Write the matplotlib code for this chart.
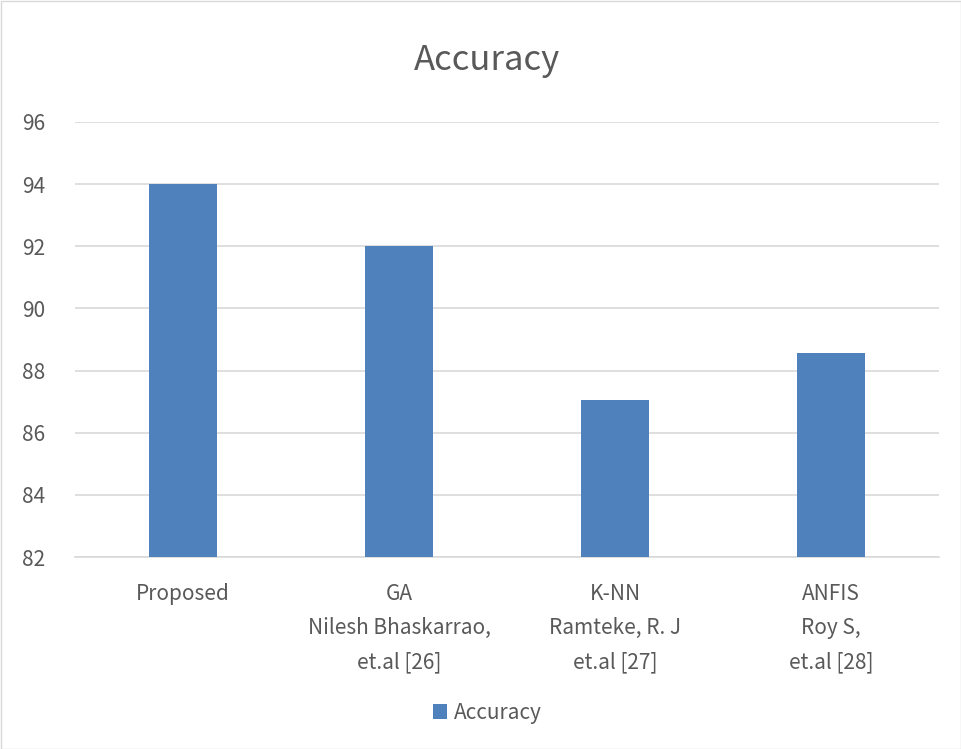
import matplotlib
matplotlib.use("Agg")
import matplotlib.pyplot as plt
from matplotlib.patches import Rectangle

plt.rcParams['font.family'] = ['Noto Sans CJK KR', 'DejaVu Sans']

categories = ["Proposed",
              "GA\nNilesh Bhaskarrao,\net.al [26]",
              "K-NN\nRamteke, R. J\net.al [27]",
              "ANFIS\nRoy S,\net.al [28]"]
accuracy = [94.0, 92.0, 87.05, 88.55]
yticks = [82, 84, 86, 88, 90, 92, 94, 96]

bar_color = "#4F81BD"
text_color = "#595959"
grid_color = "#D9D9D9"

W, H = 962, 749
fig = plt.figure(figsize=(W / 100, H / 100), dpi=100)
fig.patches.append(Rectangle((0.5 / W, 0.5 / H), 1 - 1.5 / W, 1 - 1.5 / H,
                             transform=fig.transFigure, fill=False,
                             edgecolor="#D9D9D9", linewidth=1))

ax = fig.add_axes([75 / W, 1 - 557 / H, (939 - 75) / W, (557 - 122) / H])
x = list(range(len(categories)))
ax.bar(x, accuracy, width=0.315, color=bar_color, zorder=3,
       label="Accuracy")
ax.set_ylim(82, 96)
ax.set_xlim(-0.5, len(categories) - 0.5)
ax.set_yticks(yticks)
ax.set_xticks(x)
ax.set_xticklabels(categories, fontsize=15, color=text_color,
                   linespacing=1.7)
ax.tick_params(axis="y", labelsize=15, labelcolor=text_color, length=0, pad=38)
ax.tick_params(axis="x", length=0, pad=19)
for lab in ax.get_yticklabels():
    lab.set_horizontalalignment("left")
ax.yaxis.grid(True, color=grid_color, linewidth=1.2, zorder=0)
for s in ["top", "right", "left"]:
    ax.spines[s].set_visible(False)
ax.spines["bottom"].set_color(grid_color)
ax.spines["bottom"].set_linewidth(1.2)

fig.text(487 / W, 1 - 61 / H, "Accuracy", fontsize=25, color=text_color,
         ha="center", va="center")

leg = fig.legend(loc="center", bbox_to_anchor=(487 / W, 1 - 713 / H),
                 frameon=False, fontsize=15, handlelength=0.7,
                 handleheight=0.7, handletextpad=0.3)
for t in leg.get_texts():
    t.set_color(text_color)

fig.savefig("out.png", dpi=100, facecolor="white")
